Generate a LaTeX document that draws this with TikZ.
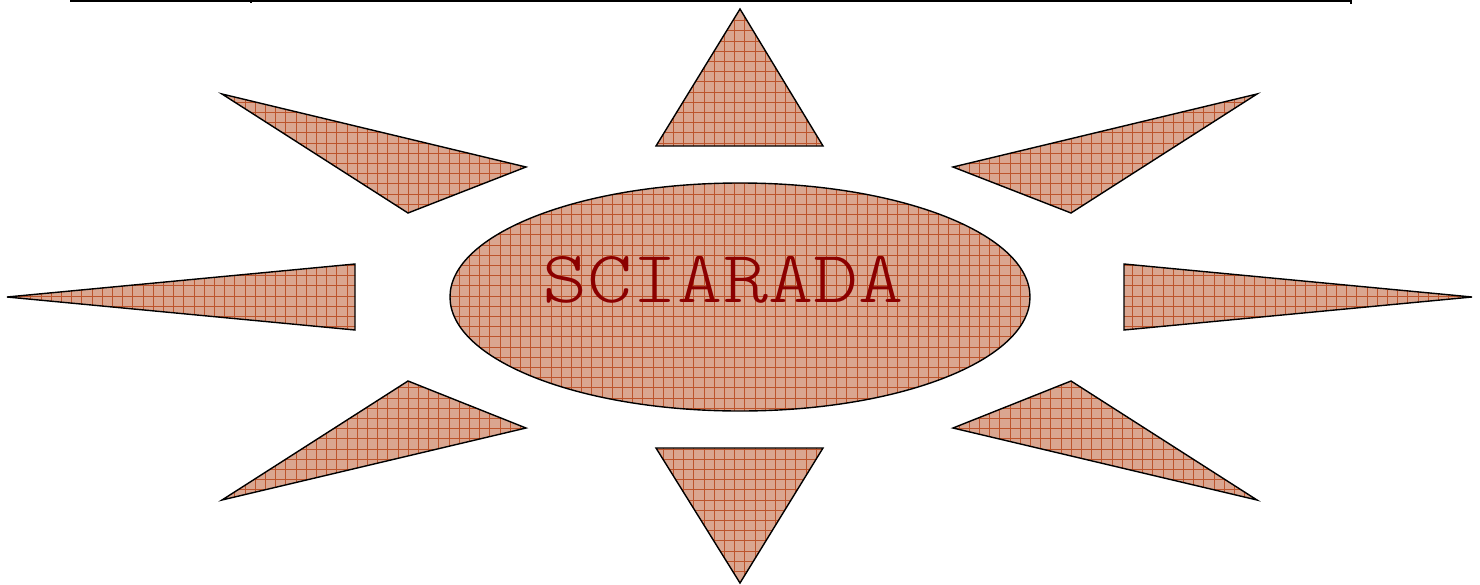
\documentclass[tikz,border=0pt]{standalone}
\definecolor{tanfill}{RGB}{218,166,144}
\definecolor{gridc}{RGB}{188,84,44}
\definecolor{txtred}{RGB}{139,0,0}
\newcommand\gridshape[1]{%
  \fill[tanfill] #1;
  \begin{scope}\clip #1;
    \draw[gridc, line width=0.55pt] (0,0) grid[step=10.2pt] (1480,584);
  \end{scope}
  \draw[outl] #1;}
\begin{document}
\begin{tikzpicture}[x=1pt,y=-1pt, outl/.style={line width=1.4pt, line join=miter, black}]
\useasboundingbox (0,0) rectangle (1480,584);
% top line
\draw[line width=1.2pt] (70,1) -- (1351,1);
\draw[line width=1.2pt] (251,0) -- (251,3);
\draw[line width=1.2pt] (1351,0) -- (1351,4);
% rays
\gridshape{(740,9) -- (823,146) -- (656,146) -- cycle}
\gridshape{(656,448) -- (823,448) -- (740,583) -- cycle}
\gridshape{(222,94) -- (526,167) -- (408,213) -- cycle}
\gridshape{(1257,94) -- (953,167) -- (1071,213) -- cycle}
\gridshape{(7,297) -- (355,264) -- (355,330) -- cycle}
\gridshape{(1472,297) -- (1124,264) -- (1124,330) -- cycle}
\gridshape{(408,381) -- (526,428) -- (222,500) -- cycle}
\gridshape{(1071,381) -- (953,428) -- (1257,500) -- cycle}
% ellipse
\gridshape{(740,297) ellipse[x radius=290, y radius=114]}
\node[text=txtred, font=\ttfamily\fontseries{l}\fontsize{74}{74}\selectfont, inner sep=0pt, anchor=base] (title) at (723,302) {\scalebox{1.16}[1]{SCIARADA}};
\end{tikzpicture}
\end{document}
